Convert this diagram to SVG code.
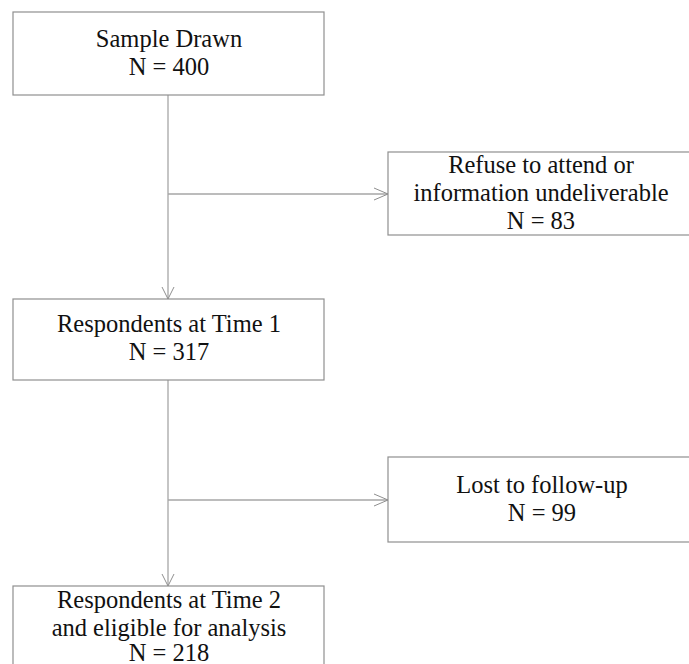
<svg xmlns="http://www.w3.org/2000/svg" width="689" height="664" viewBox="0 0 689 664">
  <style>
    .box { fill: #ffffff; stroke: #8f8f8f; stroke-width: 1.2; }
    .lbl { font-family: "Liberation Serif", "Times New Roman", serif; font-size: 24.5px; fill: #111111; text-anchor: middle; }
    .conn { fill: none; stroke: #a6a6a6; stroke-width: 1.3; }
    .head { fill: none; stroke: #8f8f8f; stroke-width: 1; }
  </style>
  <rect x="0" y="0" width="689" height="664" fill="#ffffff"/>

  <g id="connectors">
    <line class="conn" x1="168" y1="95" x2="168" y2="299"/>
    <polyline class="head" points="162,287 168,299 174,287"/>
    <line class="conn" x1="168" y1="194" x2="388" y2="194"/>
    <polyline class="head" points="374,188 388,194 374,200"/>
    <line class="conn" x1="168" y1="380" x2="168" y2="586"/>
    <polyline class="head" points="162,574 168,586 174,574"/>
    <line class="conn" x1="168" y1="500" x2="388" y2="500"/>
    <polyline class="head" points="374,494 388,500 374,506"/>
  </g>

  <g id="sample-drawn">
    <rect class="box" x="13" y="12" width="311" height="83"/>
    <text class="lbl" x="169" y="47">Sample Drawn</text>
    <text class="lbl" x="169" y="75">N = 400</text>
  </g>

  <g id="refuse">
    <rect class="box" x="388" y="152" width="306" height="83"/>
    <text class="lbl" x="541" y="173">Refuse to attend or</text>
    <text class="lbl" x="541" y="201">information undeliverable</text>
    <text class="lbl" x="541" y="229">N = 83</text>
  </g>

  <g id="time1">
    <rect class="box" x="13" y="299" width="311" height="81"/>
    <text class="lbl" x="169" y="332">Respondents at Time 1</text>
    <text class="lbl" x="169" y="360">N = 317</text>
  </g>

  <g id="lost">
    <rect class="box" x="388" y="457" width="306" height="85"/>
    <text class="lbl" x="542" y="493">Lost to follow-up</text>
    <text class="lbl" x="542" y="521">N = 99</text>
  </g>

  <g id="time2">
    <rect class="box" x="13" y="586" width="311" height="90"/>
    <text class="lbl" x="169" y="608">Respondents at Time 2</text>
    <text class="lbl" x="169" y="636">and eligible for analysis</text>
    <text class="lbl" x="169" y="661">N = 218</text>
  </g>
</svg>
